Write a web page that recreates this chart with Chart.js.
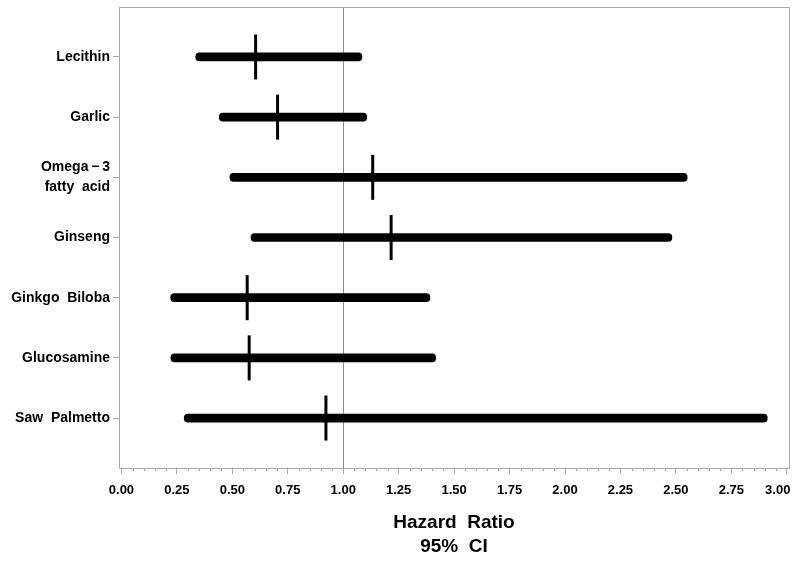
<!DOCTYPE html>
<html>
<head>
<meta charset="utf-8">
<script src="https://cdn.jsdelivr.net/npm/chart.js@4.4.1/dist/chart.umd.min.js"></script>
<style>
html,body{margin:0;padding:0;background:#fff;}
#wrap{width:800px;height:562px;}
</style>
</head>
<body>
<div id="wrap"><canvas id="c" width="800" height="562"></canvas></div>
<script>
// ---- data ----
const categories = ["Lecithin", "Garlic", ["Omega\u2009\u2212\u20093", "fatty  acid"], "Ginseng", "Ginkgo  Biloba", "Glucosamine", "Saw  Palmetto"];
const ciLow  = [0.335, 0.441, 0.489, 0.584, 0.222, 0.223, 0.283];
const ciHigh = [1.084, 1.106, 2.551, 2.482, 1.391, 1.417, 2.912];
const hazardRatio = [0.605, 0.704, 1.133, 1.216, 0.567, 0.576, 0.922];
const xTickValues = [0, 0.25, 0.5, 0.75, 1, 1.25, 1.5, 1.75, 2, 2.25, 2.5, 2.75, 3];
const refValue = 1.0;

const FONT = "'Liberation Sans', Arial, Helvetica, sans-serif";

const frameAndRef = {
  id: 'frameAndRef',
  beforeDatasetsDraw(chart) {
    const {ctx, chartArea: a, scales: {x}} = chart;
    ctx.save();
    // reference line
    const rx = Math.round(x.getPixelForValue(refValue)) + 0.5;
    ctx.strokeStyle = '#8c8c8c';
    ctx.lineWidth = 1;
    ctx.beginPath();
    ctx.moveTo(rx, a.top);
    ctx.lineTo(rx, a.bottom);
    ctx.stroke();
    // frame
    ctx.strokeStyle = '#a8a8a8';
    ctx.strokeRect(Math.round(a.left) + 0.5, Math.round(a.top) + 0.5,
                   Math.round(a.right - a.left), Math.round(a.bottom - a.top));
    // minor ticks
    ctx.beginPath();
    for (let i = 0; i <= 60; i++) {
      if (i % 5 === 0) continue;
      const px = Math.round(x.getPixelForValue(i * 0.05)) + 0.5;
      ctx.moveTo(px, a.bottom);
      ctx.lineTo(px, a.bottom + 3);
    }
    ctx.stroke();
    ctx.restore();
  }
};

const rows = categories.map((_, i) => i + 1);

new Chart(document.getElementById('c'), {
  type: 'bar',
  data: {
    datasets: [
      {
        type: 'scatter',
        order: 0,
        data: rows.map((r, i) => ({x: hazardRatio[i], y: r})),
        pointStyle: 'line',
        rotation: 90,
        radius: 22.5,
        hoverRadius: 22.5,
        borderWidth: 3,
        borderColor: '#000',
        backgroundColor: '#000',
        clip: false
      },
      {
        type: 'bar',
        order: 1,
        indexAxis: 'y',
        data: rows.map((r, i) => ({x: [ciLow[i], ciHigh[i]], y: r})),
        backgroundColor: '#000',
        borderWidth: 0,
        barThickness: 8,
        borderRadius: 4,
        borderSkipped: false
      }
    ]
  },
  options: {
    indexAxis: 'y',
    responsive: false,
    animation: false,
    events: [],
    layout: {autoPadding: false, padding: {top: 7, right: 11, left: 0, bottom: 0}},
    plugins: {legend: {display: false}, tooltip: {enabled: false}},
    scales: {
      x: {
        type: 'linear',
        position: 'bottom',
        offset: false,
        min: -0.011,
        max: 3.01,
        afterBuildTicks(s) { s.ticks = xTickValues.map(v => ({value: v})); },
        afterFit(s) { s.height = 94; s.paddingLeft = 0; s.paddingRight = 0; },
        grid: {drawOnChartArea: false, drawTicks: true, tickLength: 6, color: '#a8a8a8', offset: false},
        border: {display: false},
        ticks: {
          color: '#000',
          padding: 9,
          maxRotation: 0,
          autoSkip: false,
          font: {family: FONT, size: 13, weight: 'bold'},
          callback: v => (v >= 3 ? Number(v).toFixed(2) + '     ' : Number(v).toFixed(2))
        },
        title: {
          display: true,
          text: ['Hazard  Ratio', '95%  CI'],
          color: '#000',
          font: {family: FONT, size: 19, weight: 'bold', lineHeight: 1.263},
          padding: {top: 0, bottom: 3}
        }
      },
      y: {
        type: 'linear',
        position: 'left',
        reverse: true,
        offset: false,
        min: 0.17,
        max: 7.83,
        afterBuildTicks(s) { s.ticks = rows.map(v => ({value: v})); },
        afterFit(s) { s.width = 119; s.paddingTop = 0; s.paddingBottom = 0; },
        grid: {drawOnChartArea: false, drawTicks: true, tickLength: 6, color: '#a8a8a8', offset: false},
        border: {display: false},
        ticks: {
          color: '#000',
          padding: 3,
          autoSkip: false,
          font: {family: FONT, size: 14, weight: 'bold', lineHeight: 1.4},
          callback: v => categories[Math.round(v) - 1]
        }
      }
    }
  },
  plugins: [frameAndRef]
});
</script>
</body>
</html>
